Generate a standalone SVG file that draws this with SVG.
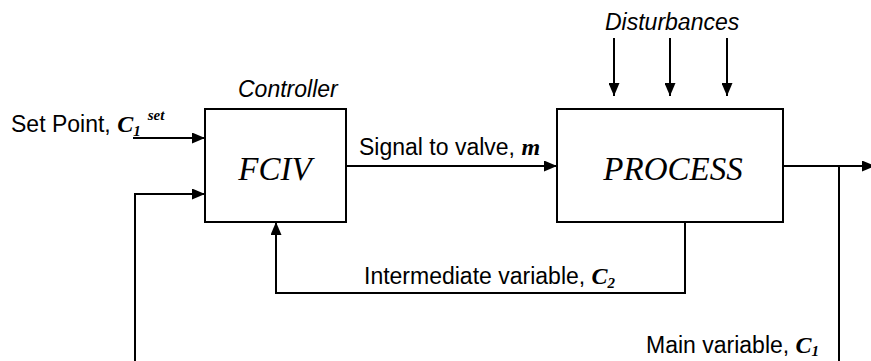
<svg xmlns="http://www.w3.org/2000/svg" width="871" height="361" viewBox="0 0 871 361">
<style>
.box{fill:#fff;stroke:#000;stroke-width:2}
.ln{fill:none;stroke:#000;stroke-width:2}
.lbl{font-family:"Liberation Sans",Arial,sans-serif;font-size:23px;fill:#000}
.it{font-style:italic}
.var{font-family:"Liberation Serif","Times New Roman",serif;font-style:italic;font-weight:bold;font-size:24px}
.sub{font-size:15px}
.big{font-family:"Liberation Serif","Times New Roman",serif;font-style:italic;font-size:33px;fill:#000}
</style>
<defs>
<marker id="ah" viewBox="0 0 13 11" refX="13" refY="5.5" markerWidth="13" markerHeight="11" markerUnits="userSpaceOnUse" orient="auto">
<path d="M0,0 L13,5.5 L0,11 Z" fill="#000"/>
</marker>
</defs>
<rect width="871" height="361" fill="#fff"/>
<g id="connectors">
<path class="ln" d="M133,138 H205" marker-end="url(#ah)"/>
<path class="ln" d="M839,166 V366 H135 V194 H205" marker-end="url(#ah)"/>
<path class="ln" d="M346,166 H557" marker-end="url(#ah)"/>
<path class="ln" d="M783,166 H875" marker-end="url(#ah)"/>
<path class="ln" d="M685,222 V293 H276 V222" marker-end="url(#ah)"/>
<path class="ln" d="M614,38 V96" marker-end="url(#ah)"/>
<path class="ln" d="M670,38 V96" marker-end="url(#ah)"/>
<path class="ln" d="M727,38 V96" marker-end="url(#ah)"/>
</g>
<g id="controller">
<rect class="box" x="205" y="109" width="141" height="113"/>
<text class="big" x="275" y="180" text-anchor="middle">FCIV</text>
<text class="lbl it" x="238" y="97">Controller</text>
</g>
<g id="process">
<rect class="box" x="557" y="109" width="226" height="113"/>
<text class="big" x="673" y="180" text-anchor="middle">PROCESS</text>
<text class="lbl it" x="605" y="30">Disturbances</text>
</g>
<g id="labels">
<text class="lbl" x="11" y="132">Set Point, <tspan class="var">C</tspan><tspan class="var sub" dy="4">1</tspan><tspan class="var sub" dx="7" dy="-16">set</tspan></text>
<text class="lbl" x="359" y="155">Signal to valve, <tspan class="var">m</tspan></text>
<text class="lbl" x="364" y="284">Intermediate variable, <tspan class="var">C</tspan><tspan class="var sub" dy="4">2</tspan></text>
<text class="lbl" x="646" y="353">Main variable, <tspan class="var">C</tspan><tspan class="var sub" dy="3">1</tspan></text>
</g>
</svg>
